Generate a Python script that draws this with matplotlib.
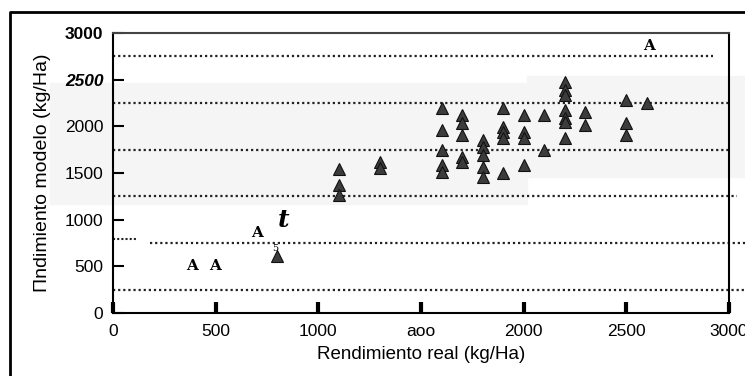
import matplotlib.pyplot as plt
from matplotlib.patches import Rectangle
from matplotlib.lines import Line2D

# rendimiento real (kg/Ha) vs rendimiento modelo (kg/Ha)
real = [800,
        1100, 1100, 1100,
        1300, 1300,
        1600, 1600, 1600, 1600, 1600,
        1700, 1700, 1700, 1700, 1700,
        1800, 1800, 1800, 1800, 1800,
        1900, 1900, 1900, 1900, 1900,
        2000, 2000, 2000, 2000,
        2100, 2100,
        2200, 2200, 2200, 2200, 2200, 2200, 2200,
        2300, 2300,
        2500, 2500, 2500,
        2600]
modelo = [610,
          1540, 1370, 1265,
          1620, 1550,
          2200, 1960, 1745, 1585, 1510,
          2120, 2035, 1905, 1670, 1620,
          1855, 1780, 1695, 1565, 1460,
          2195, 1995, 1940, 1875, 1500,
          2120, 1940, 1875, 1585,
          2120, 1745,
          2475, 2390, 2335, 2175, 2090, 2045, 1875,
          2155, 2015,
          2280, 2035, 1905,
          2250]

grid_y = [250, 750, 1250, 1750, 2250, 2750]
grid_x_end = [3080, 3080, 3040, 3000, 3000, 2920]
xticks = [0, 500, 1000, 1500, 2000, 2500, 3000]
xlabels = ["0", "500", "1000", "aoo", "2000", "2500", "3000"]
yticks = [0, 500, 1000, 1500, 2000, 2500, 3000]
ylabels = ["0", "500", "1000", "1500", "2000", "2500", "3000"]

narrow = ["Liberation Sans Narrow", "Liberation Sans", "DejaVu Sans"]
sans = ["Liberation Sans", "DejaVu Sans"]

fig = plt.figure(figsize=(7.45, 3.76), dpi=100)
W, H = 745, 376

# light grey scan shading (behind the axes)
fig.patches.append(Rectangle((50 / W, 1 - 204 / H), 477 / W, 121 / H, transform=fig.transFigure,
                             color="#f5f5f5", zorder=-5))
fig.patches.append(Rectangle((527 / W, 1 - 177 / H), 218 / W, 101 / H, transform=fig.transFigure,
                             color="#f5f5f5", zorder=-5))
# outer frame of the scanned figure
fig.add_artist(Line2D([10 / W, 10 / W, 1.0], [0, 1 - 12 / H, 1 - 12 / H],
                      transform=fig.transFigure, color="black", lw=2))

ax = fig.add_axes([113 / W, 1 - 313 / H, 616 / W, 280 / H])
ax.patch.set_alpha(0)
ax.set_xlim(0, 3000)
ax.set_ylim(0, 3000)

for gy, xe in zip(grid_y, grid_x_end):
    xs = 0
    if gy == 750:
        xs = 180
        ax.plot([0, 120], [790, 790], color="#222222", lw=1.5, ls=(0, (1, 1)), clip_on=False)
    ax.plot([xs, xe], [gy, gy], color="#222222", lw=1.6, ls=(0, (1, 1.3)), clip_on=False, zorder=1)

ax.plot(real, modelo, ls="none", marker="^", ms=8.5, color="#3c3c3c", mec="#111111", mew=0.8, zorder=3)

# stray OCR characters on the scan
for tx, ty in [(385, 500), (495, 500), (700, 860), (2610, 2860)]:
    ax.text(tx, ty, "A", family="DejaVu Serif", weight="bold", fontsize=11, ha="center", va="center")
ax.text(830, 1000, "t", family="DejaVu Serif", weight="bold", style="italic", fontsize=18,
        ha="center", va="center")
ax.text(790, 690, "5", family="DejaVu Serif", fontsize=7, ha="center", va="center")

for s in ["left", "bottom", "right", "top"]:
    ax.spines[s].set_linewidth(1.5)
ax.spines["top"].set_color("#444444")

ax.set_xticks(xticks)
ax.set_xticklabels(xlabels, fontsize=12.5, family=narrow)
ax.set_yticks(yticks)
ax.set_yticklabels(ylabels, fontsize=12.5, family=narrow)
ax.tick_params(axis="x", direction="in", length=8, width=3, pad=8)
ax.tick_params(axis="y", direction="in", length=8, width=1.5, pad=7)
ax.get_yticklabels()[-1].set_weight("bold")
ax.get_yticklabels()[-2].set_weight("bold")
ax.get_yticklabels()[-2].set_style("italic")

ax.set_xlabel("Rendimiento real (kg/Ha)", fontsize=13.5, family=sans, labelpad=5)
ax.set_ylabel("\u03a0ndimiento modelo (kg/Ha)", fontsize=14, family=sans, labelpad=10)

fig.savefig("out.png", dpi=100)
